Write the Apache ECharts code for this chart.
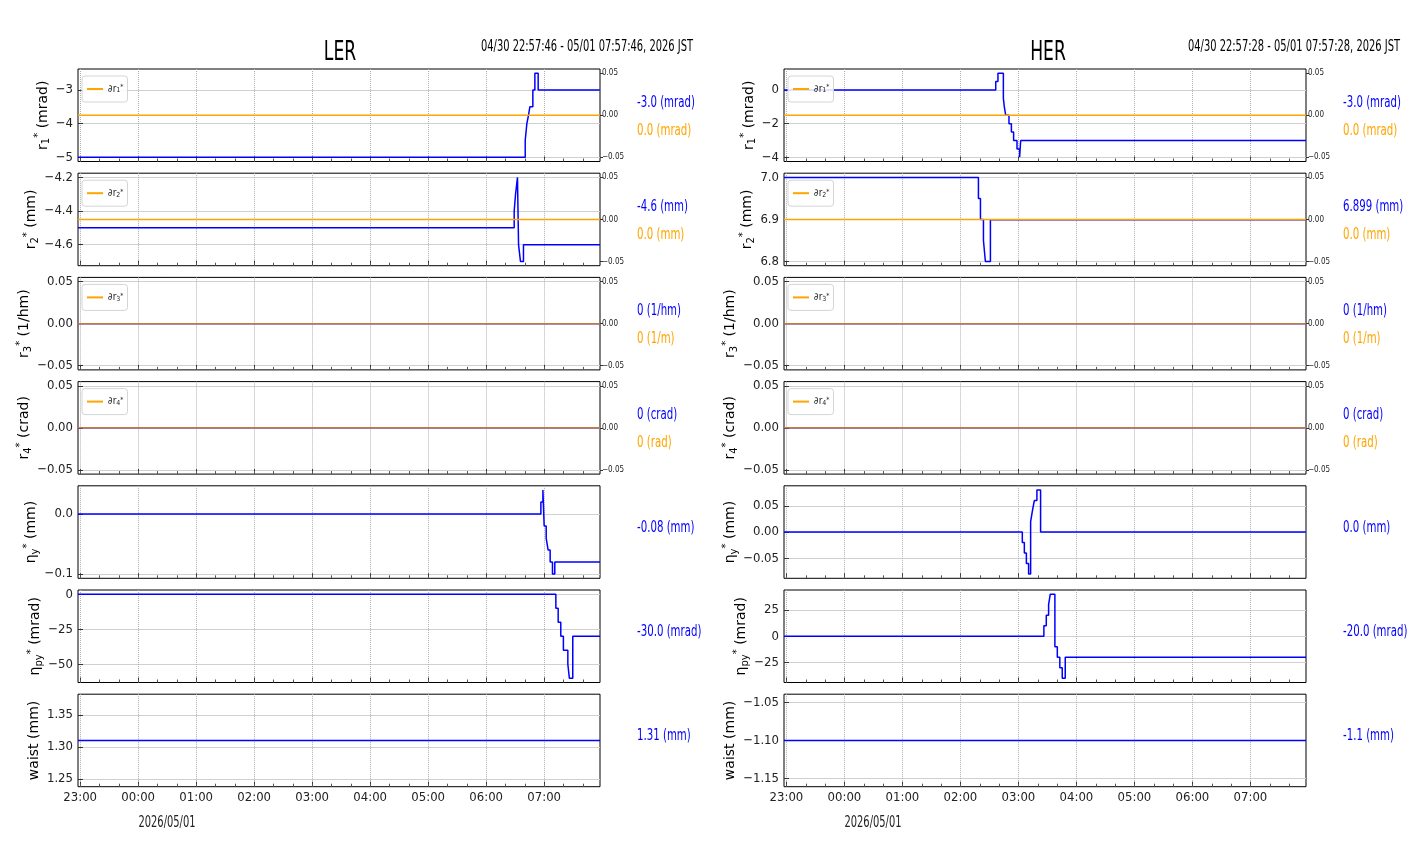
<!DOCTYPE html>
<html><head><meta charset="utf-8">
<script src="https://cdn.jsdelivr.net/npm/echarts@6/dist/echarts.min.js"></script>
<style>html,body{margin:0;padding:0;background:#fff}#c{width:1412px;height:864px}</style>
</head><body><div id="c"></div>
<script>
// ---- time axis (minutes since 2026/05/01 00:00 JST) ----
const hourTicks = [-60, 0, 60, 120, 180, 240, 300, 360, 420];
const hourLabels = ['23:00', '00:00', '01:00', '02:00', '03:00', '04:00', '05:00', '06:00', '07:00'];
const minorTicks = [-60, -40, -20, 0, 20, 40, 60, 80, 100, 120, 140, 160, 180, 200, 220, 240, 260, 280, 300, 320, 340, 360, 380, 400, 420, 440, 460];
const lerStart = -62.233, lerEnd = 477.767;   // 04/30 22:57:46 - 05/01 07:57:46
const herStart = -62.533, herEnd = 477.467;   // 04/30 22:57:28 - 05/01 07:57:28

// ---- LER series ----
const lerR1T = [lerStart, 400.4, 402.1, 403.8, 405.2, 408.3, 410.4, 413.8, lerEnd];
const lerR1V = [-5.0, -4.5, -4.0, -3.75, -3.5, -3.0, -2.5, -3.0, -3.0];
const lerR2T = [lerStart, 389.0, 390.4, 392.4, 393.5, 395.5, 398.6, lerEnd];
const lerR2V = [-4.5, -4.4, -4.3, -4.2, -4.6, -4.7, -4.6, -4.6];
const lerR3T = [lerStart, lerEnd];
const lerR3V = [0, 0];
const lerR4T = [lerStart, lerEnd];
const lerR4V = [0, 0];
const lerEtaYT = [lerStart, 416.6, 418.7, 420.0, 422.1, 424.1, 426.2, 428.6, 431.0, lerEnd];
const lerEtaYV = [0.0, 0.02, 0.04, -0.02, -0.04, -0.06, -0.08, -0.1, -0.08, -0.08];
const lerEtaPyT = [lerStart, 432.1, 434.5, 437.2, 439.9, 444.5, 446.1, 449.6, lerEnd];
const lerEtaPyV = [0, -10, -20, -30, -40, -50, -60, -30, -30];
const lerWaistT = [lerStart, lerEnd];
const lerWaistV = [1.31, 1.31];
const lerDrT = [lerStart, lerEnd];
const lerDrV = [0.0, 0.0];

// ---- HER series ----
const herR1T = [herStart, 156.5, 158.8, 164.4, 165.4, 166.8, 170.2, 172.7, 175.0, 178.5, 181.2, 182.3, herEnd];
const herR1V = [0, 0.5, 1.0, -0.5, -1.0, -1.5, -2.0, -2.5, -3.0, -3.5, -4.0, -3.0, -3.0];
const herR2T = [herStart, 138.6, 140.7, 143.8, 145.8, 151.0, herEnd];
const herR2V = [7.0, 6.95, 6.9, 6.85, 6.8, 6.899, 6.899];
const herR3T = [herStart, herEnd];
const herR3V = [0, 0];
const herR4T = [herStart, herEnd];
const herR4V = [0, 0];
const herEtaYT = [herStart, 184.0, 186.1, 188.2, 190.5, 192.6, 194.4, 196.4, 199.1, 202.9, herEnd];
const herEtaYV = [0, -0.02, -0.04, -0.06, -0.08, 0.02, 0.04, 0.06, 0.08, 0.0, 0.0];
const herEtaPyT = [herStart, 206.3, 208.8, 211.2, 212.9, 217.7, 220.2, 222.8, 225.3, 228.4, herEnd];
const herEtaPyV = [0, 10, 20, 30, 40, -10, -20, -30, -40, -20, -20];
const herWaistT = [herStart, herEnd];
const herWaistV = [-1.1, -1.1];
const herDrT = [herStart, herEnd];
const herDrV = [0.0, 0.0];

// ---- axis tick labels ----
const lerYTicks = [[-5, -4, -3], [-4.6, -4.4, -4.2], [-0.05, 0, 0.05], [-0.05, 0, 0.05], [-0.1, 0.0], [-50, -25, 0], [1.25, 1.30, 1.35]];
const herYTicks = [[-4, -2, 0], [6.8, 6.9, 7.0], [-0.05, 0, 0.05], [-0.05, 0, 0.05], [-0.05, 0, 0.05], [-25, 0, 25], [-1.15, -1.10, -1.05]];
const rightTicks = [-0.05, 0, 0.05];

// ---- text ----
const lerValueTexts = [['-3.0 (mrad)', '0.0 (mrad)'], ['-4.6 (mm)', '0.0 (mm)'], ['0 (1/hm)', '0 (1/m)'], ['0 (crad)', '0 (rad)'], ['-0.08 (mm)'], ['-30.0 (mrad)'], ['1.31 (mm)']];
const herValueTexts = [['-3.0 (mrad)', '0.0 (mrad)'], ['6.899 (mm)', '0.0 (mm)'], ['0 (1/hm)', '0 (1/m)'], ['0 (crad)', '0 (rad)'], ['0.0 (mm)'], ['-20.0 (mrad)'], ['-1.1 (mm)']];
const yNames = ['r{sub|1}{sup|*} (mrad)', 'r{sub|2}{sup|*} (mm)', 'r{sub|3}{sup|*} (1/hm)', 'r{sub|4}{sup|*} (crad)', 'η{sub|y}{sup|*} (mm)', 'η{sub|py}{sup|*} (mrad)', 'waist (mm)'];
const legendLabels = ['∂r{sub|1}{sup|*}', '∂r{sub|2}{sup|*}', '∂r{sub|3}{sup|*}', '∂r{sub|4}{sup|*}'];

// ---- layout ----
const NARROW = "'Liberation Sans Narrow','DejaVu Sans Condensed',sans-serif";
const DV = "'DejaVu Sans',sans-serif";
const BLUE = '#0000ff', ORANGE = '#ffa500';
const tops = [69, 173.2, 277.4, 381.6, 485.8, 590, 694.2];
const PH = 92.5, PW = 522;
const sides = [
  { key: 'LER', left: 78, start: lerStart, end: lerEnd, ticks: lerYTicks, texts: lerValueTexts,
    ranges: [[-5.125, -2.375], [-4.725, -4.175], [-0.055, 0.055], [-0.055, 0.055], [-0.107, 0.047], [-63, 3], [1.2379, 1.3821]],
    dec: [0, 1, 2, 2, 1, 0, 2], gaps: [22, 29, 33, 33, 30, 30, 27],
    blue: [[lerR1T, lerR1V], [lerR2T, lerR2V], [lerR3T, lerR3V], [lerR4T, lerR4V], [lerEtaYT, lerEtaYV], [lerEtaPyT, lerEtaPyV], [lerWaistT, lerWaistV]],
    orange: [lerDrT, lerDrV], titleX: 340, rangeRight: 693, valueX: 637, dateX: 167,
    range: '04/30 22:57:46 - 05/01 07:57:46, 2026 JST' },
  { key: 'HER', left: 784, start: herStart, end: herEnd, ticks: herYTicks, texts: herValueTexts,
    ranges: [[-4.25, 1.25], [6.79, 7.01], [-0.055, 0.055], [-0.055, 0.055], [-0.088, 0.088], [-44, 44], [-1.1605, -1.0395]],
    dec: [0, 1, 2, 2, 2, 0, 2], gaps: [23, 23, 34, 34, 34, 27, 32],
    blue: [[herR1T, herR1V], [herR2T, herR2V], [herR3T, herR3V], [herR4T, herR4V], [herEtaYT, herEtaYV], [herEtaPyT, herEtaPyV], [herWaistT, herWaistV]],
    orange: [herDrT, herDrV], titleX: 1048, rangeRight: 1400, valueX: 1343, dateX: 873,
    range: '04/30 22:57:28 - 05/01 07:57:28, 2026 JST' }
];

const fmtNum = (v, d) => { let s = Number(v).toFixed(d); if (Math.abs(v) < 1e-12) s = (0).toFixed(d); return s.replace('-', '\u2212'); };
const pairs = (T, V) => T.map((t, i) => [t, V[i]]);

const grids = [], xAxes = [], yAxes = [], series = [], legends = [], graphics = [];
const nameRich = {
  sub: { fontSize: 10, fontFamily: DV, color: '#000', verticalAlign: 'bottom', lineHeight: 12 },
  sup: { fontSize: 10, fontFamily: DV, color: '#000', verticalAlign: 'top', lineHeight: 12 }
};

sides.forEach((S) => {
  for (let p = 0; p < 7; p++) {
    const g = grids.length;
    grids.push({ left: S.left, top: tops[p], width: PW, height: PH, show: true, borderColor: '#000', borderWidth: 1, backgroundColor: 'transparent' });
    const bottom = p === 6;
    xAxes.push({
      type: 'value', gridIndex: g, min: S.start, max: S.end, position: 'bottom',
      axisLine: { show: false, onZero: false },
      axisTick: { show: true, inside: true, length: 5, customValues: hourTicks, lineStyle: { color: '#333', width: 1 } },
      axisLabel: { show: bottom, customValues: hourTicks, margin: 4, fontFamily: NARROW, fontSize: 13, color: '#222',
        formatter: (v) => { const i = hourTicks.indexOf(Math.round(v)); return i >= 0 ? hourLabels[i] : ''; } },
      splitLine: { show: true, lineStyle: { type: 'dotted', color: '#b0b0b0', width: 1 } }
    });
    xAxes.push({
      type: 'value', gridIndex: g, min: S.start, max: S.end, position: 'bottom',
      axisLine: { show: false, onZero: false },
      axisTick: { show: true, inside: true, length: 3, customValues: minorTicks, lineStyle: { color: '#555', width: 1 } },
      axisLabel: { show: false }, splitLine: { show: false }
    });
    const xi = 2 * g;
    const yl = yAxes.length;
    const d = S.dec[p];
    yAxes.push({
      type: 'value', gridIndex: g, position: 'left', min: S.ranges[p][0], max: S.ranges[p][1],
      axisLine: { show: false, onZero: false },
      axisTick: { show: true, inside: true, length: 5, customValues: S.ticks[p], lineStyle: { color: '#333' } },
      axisLabel: { customValues: S.ticks[p], margin: 5, fontFamily: NARROW, fontSize: 13, color: '#222', formatter: (v) => fmtNum(v, d) },
      splitLine: { show: true, lineStyle: { color: '#d0d0d0', width: 1 } },
      name: yNames[p], nameLocation: 'middle', nameGap: S.gaps[p],
      nameTextStyle: { fontFamily: DV, fontSize: 14, color: '#000', lineHeight: 18, rich: nameRich }
    });
    series.push({
      type: 'line', xAxisIndex: xi, yAxisIndex: yl, data: pairs(S.blue[p][0], S.blue[p][1]), step: 'end',
      showSymbol: false, symbol: 'none', color: BLUE, lineStyle: { color: BLUE, width: 1.5 }, animation: false, z: 3,
      name: S.key + ' value ' + p
    });
    if (p < 4) {
      const yr = yAxes.length;
      yAxes.push({
        type: 'value', gridIndex: g, position: 'right', min: -0.055, max: 0.055,
        axisLine: { show: false, onZero: false },
        axisTick: { show: true, inside: false, length: 3, customValues: rightTicks, lineStyle: { color: '#333' } },
        axisLabel: { customValues: rightTicks, margin: 2, fontFamily: NARROW, fontSize: 8, color: '#222', formatter: (v) => fmtNum(v, 2) },
        splitLine: { show: false }
      });
      const nm = S.key + ' \u2202r' + (p + 1) + '*';
      series.push({
        type: 'line', xAxisIndex: xi, yAxisIndex: yr, data: pairs(S.orange[0], S.orange[1]), step: 'end',
        showSymbol: false, symbol: 'none', color: ORANGE, itemStyle: { color: ORANGE },
        lineStyle: { color: ORANGE, width: 1.5, opacity: p >= 2 ? 0.75 : 1 }, animation: false, z: 4, name: nm
      });
      const lab = legendLabels[p];
      legends.push({
        data: [nm], left: S.left + 4, top: tops[p] + 7, orient: 'horizontal', icon: 'rect',
        itemWidth: 16, itemHeight: 2, itemGap: 0, padding: [8, 4, 8, 5], selectedMode: false,
        backgroundColor: 'rgba(255,255,255,0.85)', borderColor: '#d4d4d4', borderWidth: 1, borderRadius: 3,
        formatter: () => lab,
        textStyle: { fontFamily: NARROW, fontSize: 10, color: '#222', padding: [0, 0, 0, 0],
          rich: { sub: { fontSize: 7, fontFamily: NARROW, color: '#222', verticalAlign: 'bottom', lineHeight: 8 },
                  sup: { fontSize: 7, fontFamily: NARROW, color: '#222', verticalAlign: 'top', lineHeight: 8 } } }
      });
    }
    // value texts on the right
    const tx = S.texts[p];
    if (tx.length === 2) {
      graphics.push({ type: 'text', x: S.valueX, y: tops[p] + 34, scaleX: 0.68, style: { text: tx[0], fill: BLUE, font: '15px ' + DV, align: 'left', verticalAlign: 'middle' } });
      graphics.push({ type: 'text', x: S.valueX, y: tops[p] + 62, scaleX: 0.68, style: { text: tx[1], fill: ORANGE, font: '15px ' + DV, align: 'left', verticalAlign: 'middle' } });
    } else {
      graphics.push({ type: 'text', x: S.valueX, y: tops[p] + 42, scaleX: 0.68, style: { text: tx[0], fill: BLUE, font: '15px ' + DV, align: 'left', verticalAlign: 'middle' } });
    }
  }
  graphics.push({ type: 'text', x: S.titleX, y: 53, scaleX: 0.66, style: { text: S.key, fill: '#000', font: '26px ' + DV, align: 'center', verticalAlign: 'middle' } });
  graphics.push({ type: 'text', x: S.rangeRight, y: 47, scaleX: 0.66, style: { text: S.range, fill: '#000', font: '15px ' + DV, align: 'right', verticalAlign: 'middle' } });
  graphics.push({ type: 'text', x: S.dateX, y: 823, scaleX: 0.66, style: { text: '2026/05/01', fill: '#222', font: '15px ' + DV, align: 'center', verticalAlign: 'middle' } });
});

const chart = echarts.init(document.getElementById('c'), null, { renderer: 'canvas' });
chart.setOption({
  backgroundColor: '#ffffff',
  animation: false,
  grid: grids, xAxis: xAxes, yAxis: yAxes, series: series, legend: legends, graphic: graphics,
  tooltip: { show: false }
});
</script></body></html>
